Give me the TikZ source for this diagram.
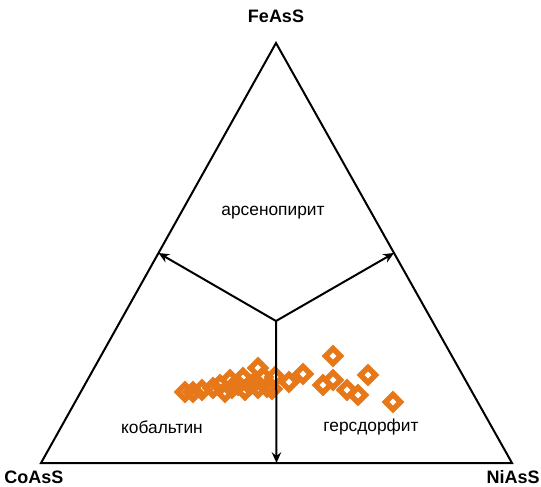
\documentclass[tikz,border=0pt]{standalone}
\usepackage{fontspec}
\setmainfont{Liberation Sans}
\usepackage{tikz}
\usetikzlibrary{arrows.meta,calc}
\definecolor{ore}{RGB}{230,120,25}

\begin{document}
\begin{tikzpicture}[x=0.75pt,y=-0.75pt,>={Stealth[length=8pt,width=7pt]},
  edge/.style={line width=1.5pt,line join=miter},
  vlab/.style={font=\fontsize{13.5}{16}\selectfont\bfseries},
  fld/.style={font=\fontsize{13}{15}\selectfont},
  mk/.style={ore,line width=4pt,line join=miter}]
  \useasboundingbox (0,0) rectangle (541,486);
  \coordinate (fe) at (276,43); \coordinate (co) at (41,463); \coordinate (ni) at (512,463);
  \coordinate (ctr) at (276,321);
  \coordinate (mL) at ($(co)!0.5!(fe)$); \coordinate (mR) at ($(ni)!0.5!(fe)$); \coordinate (mB) at ($(co)!0.5!(ni)$);
  \draw[edge] (fe) -- (ni) -- (co) -- cycle;
  \node[vlab] (lfe) at (276,16) {FeAsS};
  \node[vlab] (lco) at (34,477) {CoAsS};
  \node[vlab] (lni) at (513,477) {NiAsS};
  \node[fld] (apy) at (273,213) {арсенопирит};
  \node[fld] (cob) at (162,427) {кобальтин};
  \node[fld] (ger) at (371,427) {герсдорфит};
  % analyses
  \foreach \x/\y in {185/392,193/392,202/390,213/388,220/385,225/392,230/380,232/388,238/385,243/378,
    245/390,250/385,255/382,258/388,263/377,267/387,258/368,275/377,272/389,289/382,303/374,
    333/356,323/385,333/380,347/390,358/395,368/375,393/402}
    \draw[mk] (\x,\y) +(0,-7.5) -- +(7.5,0) -- +(0,7.5) -- +(-7.5,0) -- cycle;
  \draw[->,edge] (ctr) -- (mL);
  \draw[->,edge] (ctr) -- (mR);
  \draw[->,edge] (ctr) -- (mB);
\end{tikzpicture}
\end{document}
